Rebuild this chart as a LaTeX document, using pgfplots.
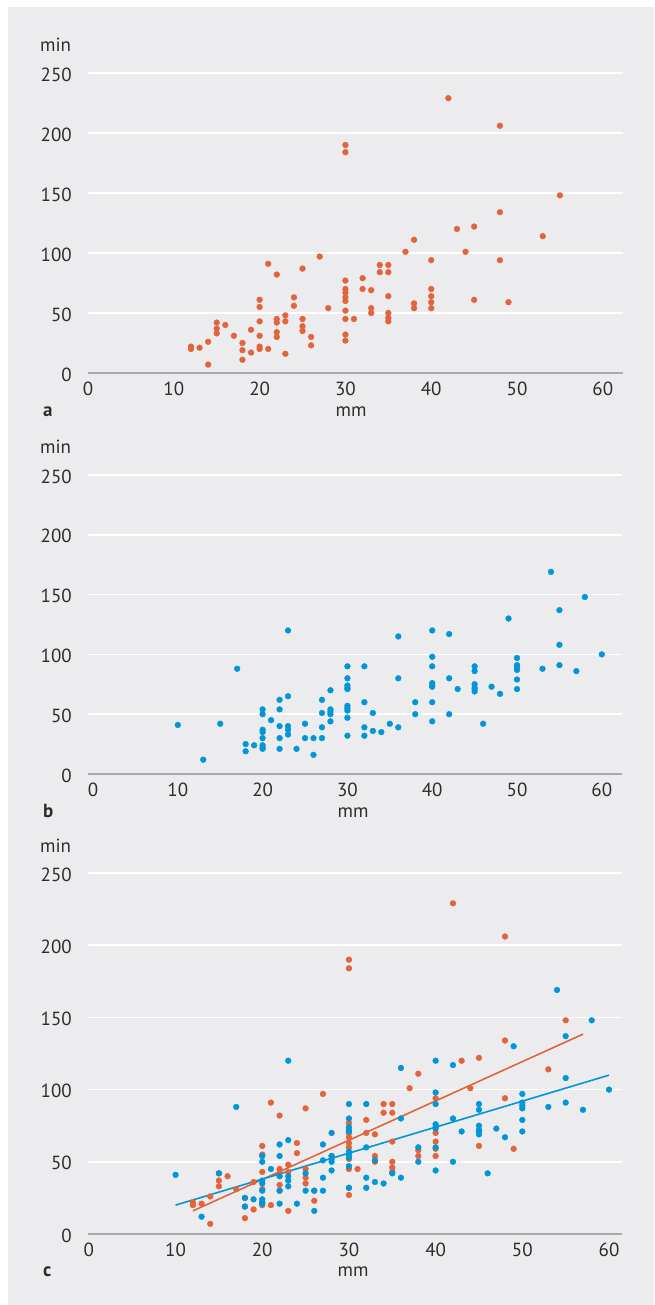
\documentclass[border=0pt]{standalone}
\usepackage{pgfplots}
\usepackage{pgfplotstable}
\pgfplotsset{compat=1.18}
\usepackage{fontspec}
\setmainfont{PT Sans}
\definecolor{bg}{RGB}{236,236,239}
\definecolor{oc}{RGB}{226,100,58}
\definecolor{bc}{RGB}{0,150,215}
\definecolor{axg}{RGB}{170,170,172}
\definecolor{txt}{RGB}{45,45,45}

\pgfplotstableread{
x y
12 22
12 20
13 21
14 26
14 7
15 42
15 37
15 33
16 40
17 31
18 25
18 19
18 11
19 36
19 17
20 61
20 55
20 43
20 31
20 22
20 20
21 91
21 20
22 82
22 45
22 42
22 34
22 30
23 48
23 43
23 16
24 63
24 56
25 87
25 45
25 39
25 35
26 30
26 23
27 97
28 54
30 190
30 184
30 77
30 70
30 67
30 63
30 60
30 52
30 45
30 32
30 27
31 45
32 79
32 70
33 69
33 54
33 50
34 90
34 84
35 90
35 84
35 64
35 50
35 46
35 43
37 101
38 111
38 58
38 54
40 94
40 70
40 64
40 59
40 54
42 229
43 120
44 101
45 122
45 61
48 206
48 134
48 94
49 59
53 114
55 148
}\dataA

\pgfplotstableread{
x y
10 41
13 12
15 42
17 88
18 25
18 19
19 24
20 54
20 50
20 37
20 35
20 30
20 24
20 22
20 21
21 45
22 62
22 54
22 40
22 30
22 21
23 120
23 65
23 40
23 37
23 33
24 21
25 42
25 30
26 30
26 16
27 62
27 51
27 39
27 30
28 70
28 54
28 52
28 50
28 44
30 90
30 80
30 74
30 72
30 71
30 57
30 55
30 53
30 47
30 32
32 90
32 60
32 39
32 32
33 51
33 36
34 35
35 42
36 115
36 80
36 39
38 60
38 50
40 120
40 98
40 90
40 76
40 74
40 73
40 60
40 44
42 117
42 80
42 50
43 71
45 90
45 86
45 75
45 72
45 71
45 69
46 42
47 73
48 67
49 130
50 97
50 91
50 89
50 87
50 79
50 71
53 88
54 169
55 137
55 108
55 91
57 86
58 148
60 100
}\dataB

\pgfplotsset{
  panel/.style={
    scale only axis,
    anchor=south west,
    ymin=0, ymax=250,
    ytick={0,50,100,150,200,250},
    xtick={0,10,20,30,40,50,60},
    axis x line*=bottom,
    axis y line*=left,
    x axis line style={draw=axg, line width=2.4bp, -},
    y axis line style={draw=none},
    tick style={draw=none},
    major tick length=0pt,
    ymajorgrids,
    grid style={white, line width=1.6bp},
    clip=false,
    /pgf/number format/assume math mode=true,
    ticklabel style={font=\fontsize{19bp}{22bp}\selectfont, text=txt, inner sep=0pt},
    xticklabel style={anchor=north, yshift=-9bp},
    yticklabel style={anchor=east, xshift=-16bp, yshift=-1.5bp},
  },
}

\begin{document}
\begin{tikzpicture}[x=1bp,y=1bp]
\path[use as bounding box] (0,0) rectangle (654,1305);
\fill[bg] (8,0) rectangle (654,1298);

% panel a
\begin{axis}[panel, at={(88bp,932bp)}, width=535bp, height=300bp, xmin=0, xmax=62.35]
\addplot[only marks, mark=*, color=oc, mark size=2.9bp, line width=0.4bp] table[x=x,y=y] {\dataA};
\end{axis}

% panel b
\begin{axis}[panel, at={(88bp,531bp)}, width=534bp, height=299bp, xmin=-0.59, xmax=62.38]
\addplot[only marks, mark=*, color=bc, mark size=2.9bp, line width=0.4bp] table[x=x,y=y] {\dataB};
\end{axis}

% panel c
\begin{axis}[panel, at={(88bp,71bp)}, width=534bp, height=361bp, xmin=-0.1, xmax=61.5]
\addplot[only marks, mark=*, color=oc, mark size=2.9bp, line width=0.4bp] table[x=x,y=y] {\dataA};
\addplot[only marks, mark=*, color=bc, mark size=2.9bp, line width=0.4bp] table[x=x,y=y] {\dataB};
\addplot[oc, line width=1.6bp, no marks] coordinates {(12,16) (57,138.4)};
\addplot[bc, line width=1.6bp, no marks] coordinates {(10,20) (60,110)};
\end{axis}

\tikzset{lab/.style={inner sep=0pt, text=txt, font=\fontsize{19bp}{22bp}\selectfont}}
\node[lab, anchor=base west] at (40,1253) {min};
\node[lab, anchor=base west] at (40,851) {min};
\node[lab, anchor=base west] at (40,452) {min};
\node[lab, anchor=base west] at (43,888) {\bfseries a};
\node[lab, anchor=base west] at (43,487) {\bfseries b};
\node[lab, anchor=base west] at (43,28) {\bfseries c};
\node[lab, anchor=base] at (351,888) {mm};
\node[lab, anchor=base] at (353,487) {mm};
\node[lab, anchor=base] at (353,28) {mm};
\end{tikzpicture}
\end{document}
